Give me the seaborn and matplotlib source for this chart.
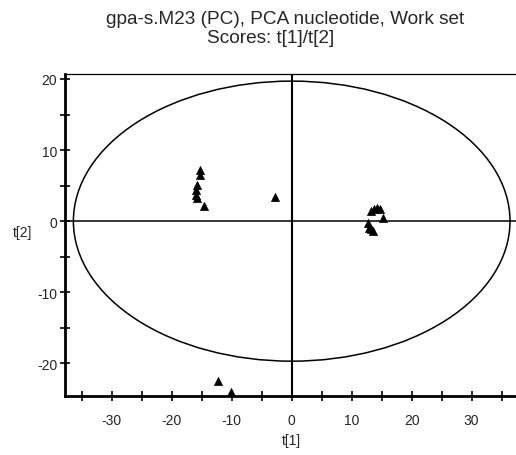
import matplotlib
matplotlib.use("Agg")
import matplotlib.pyplot as plt
from matplotlib.patches import Ellipse
import seaborn as sns
import pandas as pd

t1 = [-15.3, -15.3, -15.8, -16.0, -16.0, -15.8, -14.7, -2.8,
      13.3, 13.8, 14.3, 14.8, 15.3, 12.8, 13.2, 13.5, 12.9,
      -12.3, -10.2]
t2 = [7.2, 6.5, 5.1, 4.4, 3.7, 3.2, 2.1, 3.4,
      1.4, 1.7, 1.8, 1.7, 0.5, -0.3, -1.1, -1.4, -1.0,
      -22.5, -24.1]
ellipse_rx = 36.4
ellipse_ry = 19.7
x_ticks = [-30, -20, -10, 0, 10, 20, 30]
y_ticks = [-20, -10, 0, 10, 20]
title_line1 = "gpa-s.M23 (PC), PCA nucleotide, Work set"
title_line2 = "Scores: t[1]/t[2]"

df = pd.DataFrame({"t1": t1, "t2": t2})

sns.set_style("white")
plt.rcParams['font.family'] = ['Liberation Sans', 'DejaVu Sans']
plt.rcParams['axes.unicode_minus'] = False

fig = plt.figure(figsize=(5.16, 4.56), dpi=100)
ax = fig.add_axes([65/516, 1-397/456, 1-65/516, (397-75)/456])

sns.scatterplot(data=df, x="t1", y="t2", marker="^", color="black",
                s=34, edgecolor="black", linewidth=0.5, ax=ax, zorder=3)

ax.add_patch(Ellipse((0, 0), 2*ellipse_rx, 2*ellipse_ry, fill=False,
                     edgecolor="black", linewidth=1.1, zorder=2))
ax.axhline(0, color="black", linewidth=1.1, zorder=1)
ax.axvline(0, color="black", linewidth=1.5, zorder=1)

ax.set_xlim(-37.8, 37.4)
ax.set_ylim(-24.6, 20.7)
ax.set_xticks(x_ticks)
ax.set_yticks(y_ticks)
ax.set_xticks([v + 5 for v in x_ticks] + [-35], minor=True)
ax.set_yticks([-15, -5, 5, 15], minor=True)
ax.tick_params(which="both", direction="inout", length=7, width=1.2,
               labelsize=10, color="black", bottom=True, left=True)
ax.tick_params(axis="x", pad=9)
ax.tick_params(axis="y", pad=2)

for s in ["left", "bottom"]:
    ax.spines[s].set_linewidth(2)
    ax.spines[s].set_color("black")
ax.spines["top"].set_linewidth(0.9)
ax.spines["top"].set_color("black")
ax.spines["right"].set_visible(False)

ax.set_xlabel("t[1]", fontsize=10)
ax.xaxis.set_label_coords((291 - 65) / 451, -(441 - 397) / 322)
ax.xaxis.label.set_va("center")
ax.set_ylabel("t[2]", fontsize=10, rotation=0, va="center", ha="center")
ax.yaxis.set_label_coords((23 - 65) / 451, (397 - 233) / 322)

fig.text(285/516, 1 - 24/456, title_line1, ha="center", va="baseline", fontsize=13.7)
fig.text(271/516, 1 - 43/456, title_line2, ha="center", va="baseline", fontsize=13.7)

fig.savefig("out.png", dpi=100)
